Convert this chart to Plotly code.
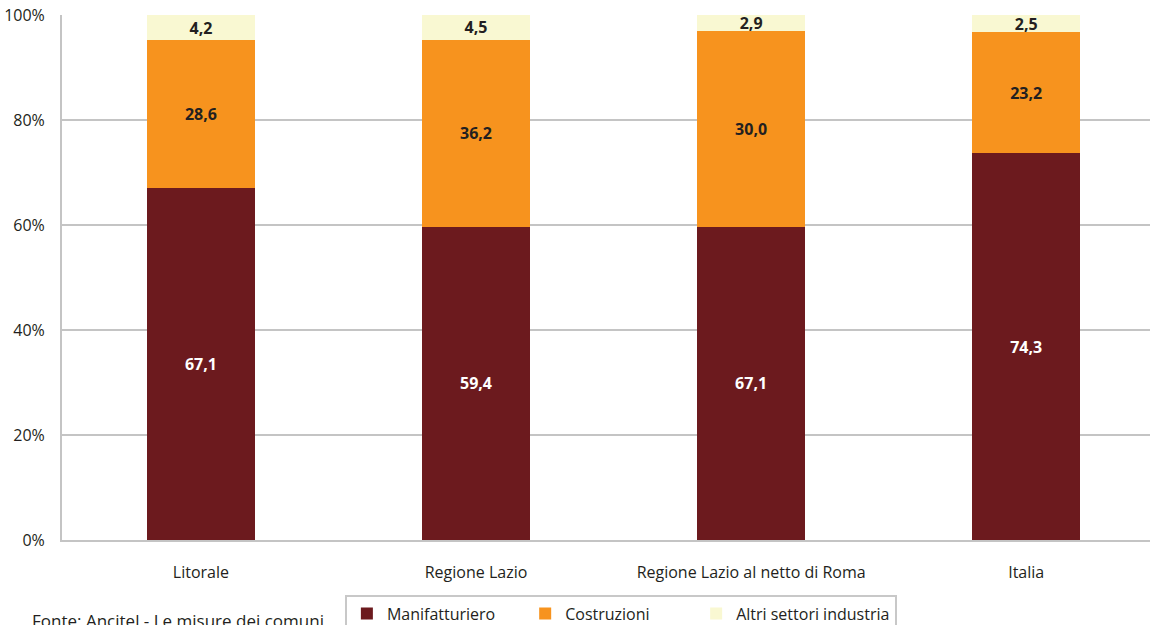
import plotly.graph_objects as go

categories = ["Litorale", "Regione Lazio", "Regione Lazio al netto di Roma", "Italia"]

# bar heights as drawn (% of total)
manifatturiero = [67.1, 59.7, 59.7, 73.7]
costruzioni = [28.1, 35.6, 37.2, 23.1]
altri = [4.8, 4.7, 3.1, 3.2]

# printed labels
manifatturiero_lbl = ["67,1", "59,4", "67,1", "74,3"]
costruzioni_lbl = ["28,6", "36,2", "30,0", "23,2"]
altri_lbl = ["4,2", "4,5", "2,9", "2,5"]

series_names = ["Manifatturiero", "Costruzioni", "Altri settori industria"]

y_ticks = [0, 20, 40, 60, 80, 100]
y_tick_labels = ["0%", "20%", "40%", "60%", "80%", "100%"]

FONT = "Open Sans"
DARK = "#231f20"
GRID = "#c4c4c4"
NB = "\u00a0"

fig = go.Figure()

series = [
    (series_names[0] + NB * 6, manifatturiero, manifatturiero_lbl, "#6c1a1e", "#ffffff"),
    (series_names[1] + NB * 10, costruzioni, costruzioni_lbl, "#f7931e", DARK),
    (series_names[2], altri, altri_lbl, "#f9f8d2", DARK),
]

for name, vals, lbls, color, tcolor in series:
    fig.add_trace(go.Bar(
        x=categories, y=vals, name=name,
        text=lbls, textposition="inside", insidetextanchor="middle",
        textangle=0, constraintext="none",
        textfont=dict(family=FONT, size=16, color=tcolor, weight="bold"),
        marker=dict(color=color, line=dict(width=0)),
        width=0.393,
        cliponaxis=False,
    ))

fig.update_layout(
    width=1150, height=625,
    barmode="stack",
    paper_bgcolor="white", plot_bgcolor="white",
    margin=dict(l=62, r=0, t=15, b=85, autoexpand=False),
    font=dict(family=FONT, size=16, color=DARK),
    uniformtext=dict(minsize=16, mode="show"),
    showlegend=True,
    legend=dict(
        orientation="h",
        x=0.26, xanchor="left",
        y=-0.104, yanchor="top",
        bordercolor="#c8c8c8", borderwidth=2,
        font=dict(family=FONT, size=16, color=DARK),
        traceorder="normal",
    ),
    xaxis=dict(
        range=[-0.505, 3.45],
        automargin=False,
        showline=True, linecolor=GRID, linewidth=2,
        showgrid=False, ticks="",
        ticklabelstandoff=17,
        tickfont=dict(family=FONT, size=16, color=DARK),
    ),
    yaxis=dict(
        range=[0, 100.02],
        automargin=False,
        tickmode="array", tickvals=y_ticks, ticktext=y_tick_labels,
        showline=True, linecolor=GRID, linewidth=2,
        showgrid=True, gridcolor=GRID, gridwidth=2,
        zeroline=False, ticks="",
        ticklabelstandoff=12,
        tickfont=dict(family=FONT, size=16, color=DARK),
    ),
    annotations=[dict(
        text="Fonte: Ancitel - Le misure dei comuni",
        xref="paper", yref="paper",
        x=-0.0294, y=-0.128, xanchor="left", yanchor="top",
        showarrow=False,
        font=dict(family=FONT, size=17, color=DARK),
    )],
)

fig.write_html(
    "out.html",
    config={"displayModeBar": False},
    post_script="document.body.style.margin='0';document.body.style.overflow='hidden';",
)
